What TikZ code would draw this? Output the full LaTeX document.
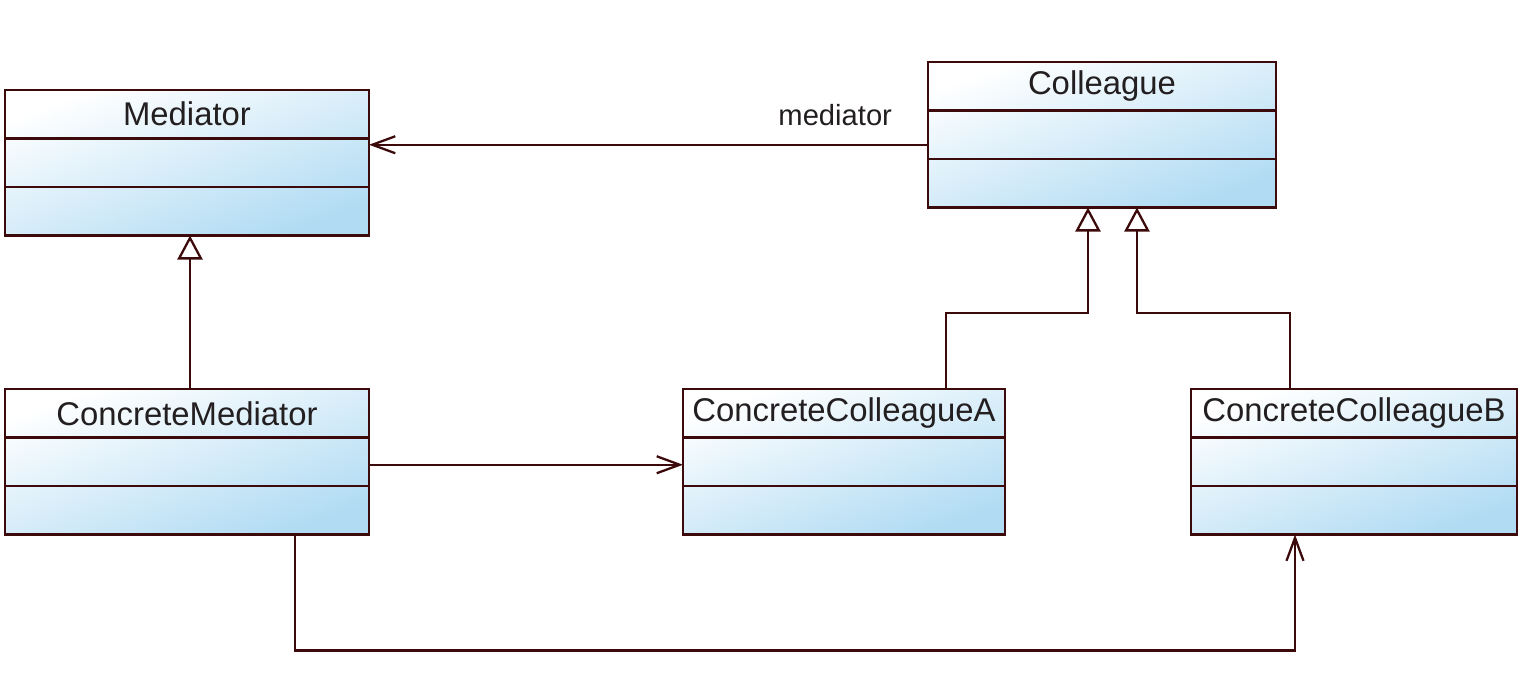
\documentclass[tikz,border=0pt]{standalone}
\usepackage{fontspec}
\setmainfont{Liberation Sans}
\usetikzlibrary{positioning,arrows.meta,backgrounds}
\definecolor{umlline}{HTML}{3C0A0A}
\definecolor{umlblue}{HTML}{B0DBF3}
\definecolor{umltext}{HTML}{231F20}
\begin{document}
\begin{tikzpicture}[
  sect/.style={draw=umlline, line width=1.4pt, minimum height=0.97cm, inner xsep=2pt, outer sep=0pt,
    text=umltext, font=\fontsize{18.7}{22}\selectfont},
  classfill/.style={top color=white, bottom color=umlblue, shading angle=20},
  assoc/.style={-{Straight Barb[length=0.46cm,width=0.34cm]}, draw=umlline, line width=1.3pt},
  inherit/.style={-{Triangle[open,length=0.48cm,width=0.5cm]}, draw=umlline, line width=1.3pt}
]
\useasboundingbox (0,0) rectangle (30.64,-13.62);

\node[sect, minimum width=7.28cm] at (3.74,-2.285) (med) {Mediator};
\node[sect, minimum width=7.28cm, below=0pt of med] (med-attr) {};
\node[sect, minimum width=7.28cm, below=0pt of med-attr] (med-ops) {};

\node[sect, minimum width=6.96cm] at (22.04,-1.725) (col) {Colleague};
\node[sect, minimum width=6.96cm, below=0pt of col] (col-attr) {};
\node[sect, minimum width=6.96cm, below=0pt of col-attr] (col-ops) {};

\node[sect, minimum width=7.28cm] at (3.74,-8.265) (cmed) {ConcreteMediator};
\node[sect, minimum width=7.28cm, below=0pt of cmed] (cmed-attr) {};
\node[sect, minimum width=7.28cm, below=0pt of cmed-attr] (cmed-ops) {};

\node[sect, minimum width=6.44cm] at (16.88,-8.265) (cca) {ConcreteColleagueA};
\node[sect, minimum width=6.44cm, below=0pt of cca] (cca-attr) {};
\node[sect, minimum width=6.44cm, below=0pt of cca-attr] (cca-ops) {};

\node[sect, minimum width=6.52cm] at (27.08,-8.265) (ccb) {ConcreteColleagueB};
\node[sect, minimum width=6.52cm, below=0pt of ccb] (ccb-attr) {};
\node[sect, minimum width=6.52cm, below=0pt of ccb-attr] (ccb-ops) {};

% one gradient per class box
\begin{scope}[on background layer]
  \foreach \c in {med,col,cmed,cca,ccb}
    \shade[classfill] (\c.north west) rectangle (\c-ops.south east);
\end{scope}

\draw[assoc] ([yshift=-0.2cm]col-attr.west) -- ([yshift=-0.2cm]col-attr.west -| med-attr.east)
  node[pos=0.166, above=7pt, text=umltext, font=\fontsize{16.6}{20}\selectfont] (medlabel) {mediator};
\draw[inherit] ([xshift=0.06cm]cmed.north) -- ([xshift=0.06cm]med-ops.south);
\draw[inherit] ([xshift=2.04cm]cca.north) -- ++(0,1.52) -| ([xshift=-0.28cm]col-ops.south);
\draw[inherit] ([xshift=-1.28cm]ccb.north) -- ++(0,1.52) -| ([xshift=0.7cm]col-ops.south);
\draw[assoc] ([yshift=-0.06cm]cmed-attr.east) -- ([yshift=-0.06cm]cca-attr.west);
\draw[assoc] ([xshift=2.16cm]cmed-ops.south) -- ++(0,-2.32) -| ([xshift=-1.18cm]ccb-ops.south);
\end{tikzpicture}
\end{document}
